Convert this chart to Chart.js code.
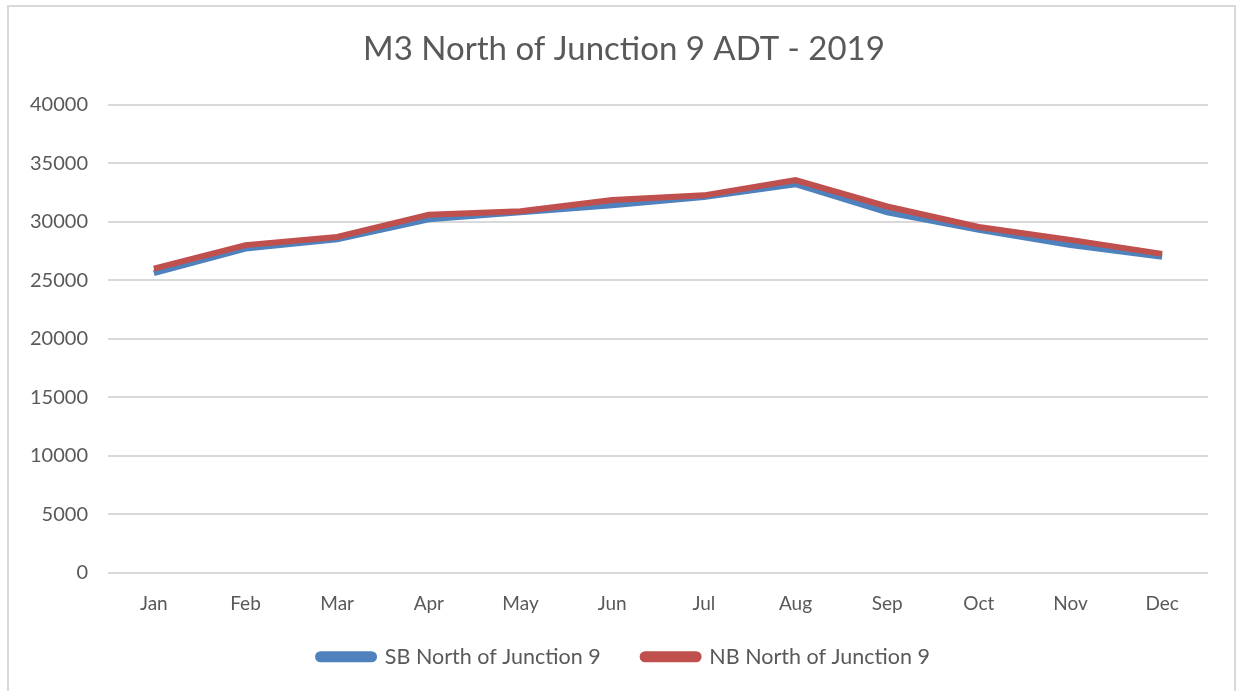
<!DOCTYPE html>
<html>
<head>
<meta charset="utf-8">
<script src="https://cdn.jsdelivr.net/npm/chart.js@4"></script>
<style>
  html, body { margin: 0; padding: 0; background: #fff; overflow: hidden; }
  #wrap { position: relative; width: 1245px; height: 691px; }
  #frame {
    position: absolute; left: 7px; top: 5px; width: 1229px; height: 700px;
    border: 2px solid #d9d9d9; box-sizing: border-box; pointer-events: none;
  }
</style>
</head>
<body>
<div id="wrap">
  <canvas id="adtChart" width="1245" height="691"></canvas>
  <div id="frame"></div>
</div>
<script>
// Monthly ADT, M3 north of junction 9
const months = ["Jan", "Feb", "Mar", "Apr", "May", "Jun", "Jul", "Aug", "Sep", "Oct", "Nov", "Dec"];
const sbValues = [25600, 27700, 28500, 30200, 30800, 31400, 32100, 33200, 30800, 29300, 28000, 27000];
const nbValues = [26000, 28000, 28700, 30600, 30900, 31850, 32250, 33550, 31300, 29550, 28450, 27250];
const yTicks = [0, 5000, 10000, 15000, 20000, 25000, 30000, 35000, 40000];

const textColor = "#595959";
const gridColor = "#d9d9d9";

// title and legend are centred on the whole frame, not on the plot
const centreBlocks = {
  id: "centreBlocks",
  afterLayout(chart) {
    chart.titleBlock.left = 40;
    const lg = chart.legend;
    lg.left = 40;
    lg.top = chart.chartArea.bottom + 31;
    lg.bottom = lg.top + lg.height;
  }
};

new Chart(document.getElementById("adtChart"), {
  type: "line",
  data: {
    labels: months,
    datasets: [
      {
        label: "SB North of Junction 9",
        data: sbValues,
        borderColor: "#4f81bd",
        backgroundColor: "#4f81bd",
        borderWidth: 6,
        pointRadius: 0,
        tension: 0,
        order: 1
      },
      {
        label: "NB North of Junction 9",
        data: nbValues,
        borderColor: "#c0504d",
        backgroundColor: "#c0504d",
        borderWidth: 6,
        pointRadius: 0,
        tension: 0,
        order: 0
      }
    ]
  },
  options: {
    responsive: false,
    animation: false,
    layout: { padding: { left: 8, right: 37, top: 0, bottom: 0 } },
    plugins: {
      title: {
        display: true,
        text: "M3 North of Junction 9 ADT - 2019",
        color: textColor,
        font: { family: "Lato", size: 33, weight: "normal" },
        padding: { top: 30, bottom: 35 }
      },
      legend: {
        position: "bottom",
        labels: {
          color: textColor,
          font: { family: "Lato", size: 21.5 },
          boxWidth: 56,
          boxHeight: 5,
          useBorderRadius: true,
          borderRadius: 2.5,
          padding: 42,
          sort: (a, b) => a.datasetIndex - b.datasetIndex
        }
      },
      tooltip: { enabled: false }
    },
    scales: {
      x: {
        offset: true,
        afterFit: s => { s.height = 44.5; },
        grid: { display: false, drawTicks: false },
        border: { display: false },
        ticks: {
          color: textColor,
          font: { family: "Lato", size: 19 },
          padding: 19
        }
      },
      y: {
        min: 0,
        max: 40000,
        afterFit: s => { s.width = 100; },
        afterBuildTicks: s => { s.ticks = yTicks.map(v => ({ value: v })); },
        grid: { color: gridColor, lineWidth: 2, drawTicks: false },
        border: { display: false },
        ticks: {
          color: textColor,
          font: { family: "Lato", size: 20 },
          padding: 20,
          callback: v => String(v)
        }
      }
    }
  },
  plugins: [centreBlocks]
});
</script>
</body>
</html>
